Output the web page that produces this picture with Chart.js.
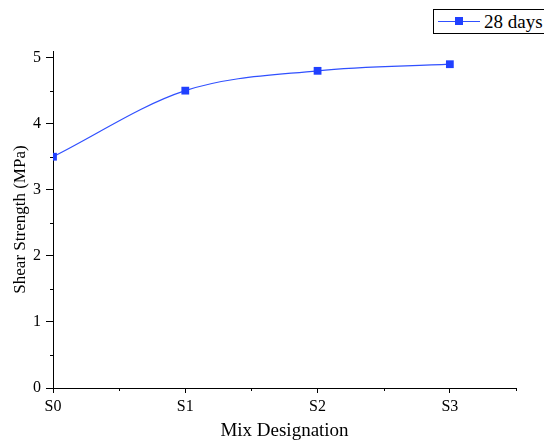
<!DOCTYPE html>
<html>
<head>
<meta charset="utf-8">
<script src="https://cdn.jsdelivr.net/npm/chart.js@4"></script>
<style>
  html, body { margin:0; padding:0; background:#fff; }
  #wrap { position:relative; width:544px; height:443px; }
  #legend {
    position:absolute; left:433px; top:9px; width:120px; height:25px;
    border:1px solid #000; background:#fff; box-sizing:border-box;
    font-family:"Liberation Serif","DejaVu Serif",serif; font-size:19px; color:#000;
  }
  #legend .ln { position:absolute; left:4px; top:11px; width:42px; height:1px; background:#3050ff; }
  #legend .sq { position:absolute; left:21px; top:7px; width:8px; height:8px; background:#2040ff; }
  #legend .tx { position:absolute; left:50px; top:0px; line-height:23px; }
</style>
</head>
<body>
<div id="wrap">
  <canvas id="c" width="544" height="443"></canvas>
  <div id="legend"><span class="ln"></span><span class="sq"></span><span class="tx">28 days</span></div>
</div>
<script>
// ── Data ──────────────────────────────────────────────────────────────────
const mixes  = ['S0','S1','S2','S3'];
const shear  = [3.5, 4.5, 4.8, 4.9];
const yTicks = [0, 1, 2, 3, 4, 5];

const SERIF = '"Liberation Serif", "DejaVu Serif", serif';
const BLUE  = '#2040ff';
const isInt = v => Math.abs(v - Math.round(v)) < 1e-6;

// major + minor (half-step) tick positions for the y axis
function yTickList() {
  const out = [];
  yTicks.forEach((t, i) => {
    out.push({value: t});
    if (i < yTicks.length - 1) out.push({value: t + 0.5});
  });
  return out;
}

// major ticks via the grid, minor (half-step) ticks drawn shorter here
const minorTicks = {
  id: 'minorTicks',
  afterDraw(chart) {
    const {ctx, scales: {x, y}} = chart;
    ctx.save();
    ctx.strokeStyle = '#000'; ctx.lineWidth = 1;
    ctx.beginPath();
    x.ticks.forEach(t => {
      if (isInt(t.value)) return;
      const px = Math.round(x.getPixelForValue(t.value)) + 0.5;
      ctx.moveTo(px, x.top); ctx.lineTo(px, x.top + 3);
    });
    y.ticks.forEach(t => {
      if (isInt(t.value)) return;
      const py = Math.round(y.getPixelForValue(t.value)) + 0.5;
      ctx.moveTo(y.right, py); ctx.lineTo(y.right - 3, py);
    });
    ctx.stroke();
    ctx.restore();
  }
};
const majorOnly = c => (c.tick && isInt(c.tick.value)) ? '#000' : 'rgba(0,0,0,0)';

new Chart(document.getElementById('c').getContext('2d'), {
  type: 'line',
  data: {
    datasets: [{
      label: '28 days',
      data: shear.map((v, i) => ({x: i, y: v})),
      borderColor: '#3050ff', borderWidth: 1.2,
      backgroundColor: BLUE,
      pointStyle: 'rect', pointRadius: 5.5, pointBorderWidth: 0,
      cubicInterpolationMode: 'monotone',
      clip: {left: 0, top: 20, right: 20, bottom: 0}
    }]
  },
  plugins: [minorTicks],
  options: {
    responsive: false, animation: false,
    layout: { padding: { top: 51, right: 28, left: 0, bottom: 0 } },
    plugins: { legend: { display: false }, tooltip: { enabled: false } },
    scales: {
      x: {
        type: 'linear', min: 0, max: 3.5,
        afterFit: s => { s.height = 55; },
        border: { color: '#000', width: 1 },
        grid: { drawOnChartArea: false, color: '#000', tickColor: majorOnly, tickLength: 5 },
        ticks: {
          stepSize: 0.5, color: '#000', padding: 4,
          font: { family: SERIF, size: 16 },
          callback: v => isInt(v) && mixes[Math.round(v)] ? mixes[Math.round(v)] : ''
        },
        title: { display: true, text: 'Mix Designation', color: '#000',
                 font: { family: SERIF, size: 19 }, padding: { top: 4, bottom: 1 } }
      },
      y: {
        min: 0, max: 5.1,
        afterFit: s => { s.width = 53; },
        afterBuildTicks: s => { s.ticks = yTickList(); },
        border: { color: '#000', width: 1 },
        grid: { drawOnChartArea: false, color: '#000', tickColor: majorOnly, tickLength: 7 },
        ticks: {
          color: '#000', padding: 5,
          font: { family: SERIF, size: 16 },
          callback: v => isInt(v) ? String(Math.round(v)) : ''
        },
        title: { display: true, text: 'Shear Strength (MPa)', color: '#000',
                 font: { family: SERIF, size: 17 }, padding: { top: 10, bottom: 4 } }
      }
    }
  }
});
</script>
</body>
</html>
